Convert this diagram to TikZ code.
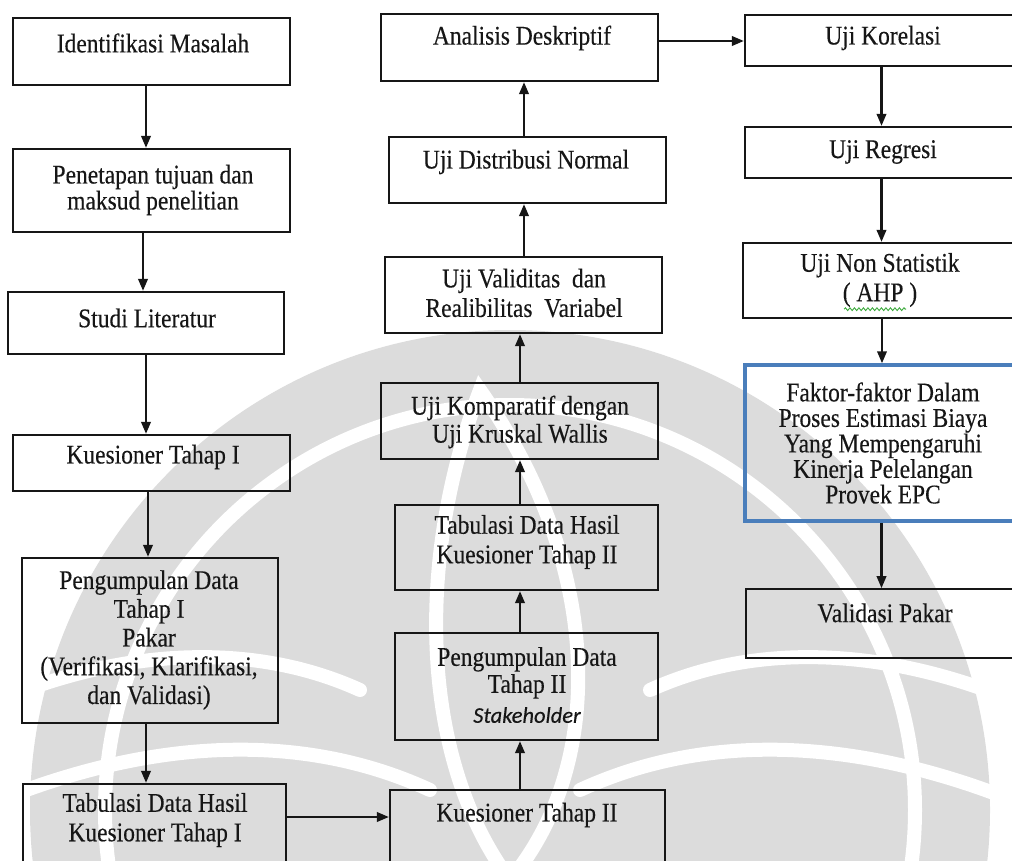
\documentclass[tikz,border=0pt]{standalone}
\usepackage{fontspec}
\setmainfont{Liberation Serif}[FakeStretch=0.87,FakeBold=0.3]
\newfontfamily\calibrilike{Carlito}[FakeBold=0.3]
\usetikzlibrary{arrows.meta,decorations.pathmorphing}

\definecolor{ink}{HTML}{161616}
\definecolor{boxblue}{HTML}{4A7EBB}
\definecolor{wmgray}{HTML}{DCDCDC}
\definecolor{spellgreen}{HTML}{3DAA3D}

% box from its corners: [style]{name}{x1}{y1}{x2}{y2}
\newcommand\mkbox[6][]{%
  \node[box,#1,minimum width={(#5-#3)*1pt},minimum height={(#6-#4)*1pt}]
    (#2) at ({(#3+#5)/2},{(#4+#6)/2}) {};}
% vertical links, shifted sideways by #3
\newcommand\linkdown[3]{\draw[arr] (#1.south) ++(#3,0) coordinate (tmp) -- (tmp |- #2.north);}
\newcommand\linkup[3]{\draw[arr] (#1.north) ++(#3,0) coordinate (tmp) -- (tmp |- #2.south);}

\begin{document}
\begin{tikzpicture}[x=1pt,y=-1pt,
  box/.style={draw=ink, line width=2.3pt, inner sep=0pt, rectangle},
  txt/.style={align=center, inner sep=0pt, text=ink,
              font=\fontsize{27}{29.5}\selectfont},
  arr/.style={draw=ink, line width=2.2pt, -{Triangle[length=12pt,width=9.5pt]}},
  wm/.style={draw=white, line width=14pt, line cap=round},
]
\useasboundingbox (0,0) rectangle (1012,861);
\clip (0,0) rectangle (1012,861);

% ---- faint emblem in the background ----
\fill[wmgray] (510,810) circle[radius=480];
\draw[wm] (510,810) circle[radius=405];
% central flame
\draw[wm] (510,880) .. controls (420,760) and (415,560) .. (480,390)
                    .. controls (600,560) and (610,760) .. (510,880);
% left sweeping bands
\draw[wm] (0,700) .. controls (120,650) and (250,640) .. (360,690);
\draw[wm] (0,800) .. controls (150,740) and (300,730) .. (430,790);
% right sweeping bands
\draw[wm] (1012,700) .. controls (890,650) and (760,640) .. (650,690);
\draw[wm] (1012,800) .. controls (860,740) and (710,730) .. (580,790);

% ---- left column ----
\mkbox{A}{13}{18}{290}{85}
\node[txt] (A-t) at (153,43) {Identifikasi Masalah};
\mkbox{B}{13}{149}{290}{232}
\node[txt,font=\fontsize{27}{26}\selectfont] (B-t) at (153,190) {Penetapan tujuan dan\\maksud penelitian};
\mkbox{C}{8}{292}{284}{354}
\node[txt] (C-t) at (147,318) {Studi Literatur};
\mkbox{D}{13}{435}{290}{491}
\node[txt] (D-t) at (153,457) {Kuesioner Tahap I};
\mkbox{E}{22}{558}{278}{723}
\node[txt,font=\fontsize{27}{28.75}\selectfont] (E-t) at (149,640) {Pengumpulan Data\\Tahap I\\Pakar\\(Verifikasi, Klarifikasi,\\dan Validasi)};
\mkbox{F}{23}{784}{286}{900}
\node[txt] (F-t) at (155,820) {Tabulasi Data Hasil\\Kuesioner Tahap I};

% ---- middle column ----
\mkbox{G}{381}{14}{658}{81}
\node[txt] (G-t) at (522,38) {Analisis Deskriptif};
\mkbox{H}{389}{137}{666}{203}
\node[txt] (H-t) at (526,162) {Uji Distribusi Normal};
\mkbox{I}{385}{257}{662}{333}
\node[txt] (I-t) at (524,293) {Uji Validitas\ \ dan\\Realibilitas\ \ Variabel};
\mkbox{J}{381}{383}{658}{459}
\node[txt,font=\fontsize{27}{28}\selectfont] (J-t) at (520,422) {Uji Komparatif dengan\\Uji Kruskal Wallis};
\mkbox{K}{395}{505}{658}{590}
\node[txt] (K-t) at (527,542) {Tabulasi Data Hasil\\Kuesioner Tahap II};
\mkbox{L}{395}{633}{658}{740}
\node[txt,font=\fontsize{27}{27}\selectfont] (L-t) at (527,685) {Pengumpulan Data\\Tahap II\\[3pt]{\calibrilike\itshape\fontsize{22.5}{27}\selectfont Stakeholder}};
\mkbox{M}{390}{790}{665}{900}
\node[txt] (M-t) at (527,815) {Kuesioner Tahap II};

% ---- right column ----
\mkbox{N}{745}{15}{1018}{66}
\node[txt] (N-t) at (883,38) {Uji Korelasi};
\mkbox{O}{745}{127}{1018}{178}
\node[txt] (O-t) at (883,152) {Uji Regresi};
\mkbox{P}{743}{243}{1018}{318}
\node[txt] (P-t) at (880,280) {Uji Non Statistik\\( AHP )};
\draw[spellgreen, line width=0.9pt, decorate,
      decoration={snake, amplitude=1.4pt, segment length=4.5pt}]
  (P-t.south) ++(-36,2) -- ++(62,0);
\mkbox[draw=boxblue,line width=3.5pt]{Q}{745}{365}{1018}{521}
\node[txt,font=\fontsize{27}{25.5}\selectfont] (Q-t) at (883,443) {Faktor-faktor Dalam\\Proses Estimasi Biaya\\Yang Mempengaruhi\\Kinerja Pelelangan\\Provek EPC};
\mkbox[line width=1.7pt]{R}{746}{589}{1018}{658}
\node[txt] (R-t) at (885,613) {Validasi Pakar};

% ---- connectors ----
\linkdown{A}{B}{-5.5}
\linkdown{B}{C}{-8.5}
\linkdown{C}{D}{0}
\linkdown{D}{E}{-3.5}
\linkdown{E}{F}{-4}
\draw[arr] (F.east) ++(0,-25) coordinate (tmp) -- (tmp -| M.west);
\linkup{M}{L}{-7.5}
\linkup{L}{K}{-6.5}
\linkup{K}{J}{-6.5}
\linkup{J}{I}{0.5}
\linkup{I}{H}{0.5}
\linkup{H}{G}{-3.5}
\draw[arr] (G.east) ++(0,-6.5) coordinate (tmp) -- (tmp -| N.west);
\linkdown{N}{O}{0}
\linkdown{O}{P}{0}
\linkdown{P}{Q}{1.5}
\linkdown{Q}{R}{0}
\end{tikzpicture}
\end{document}
